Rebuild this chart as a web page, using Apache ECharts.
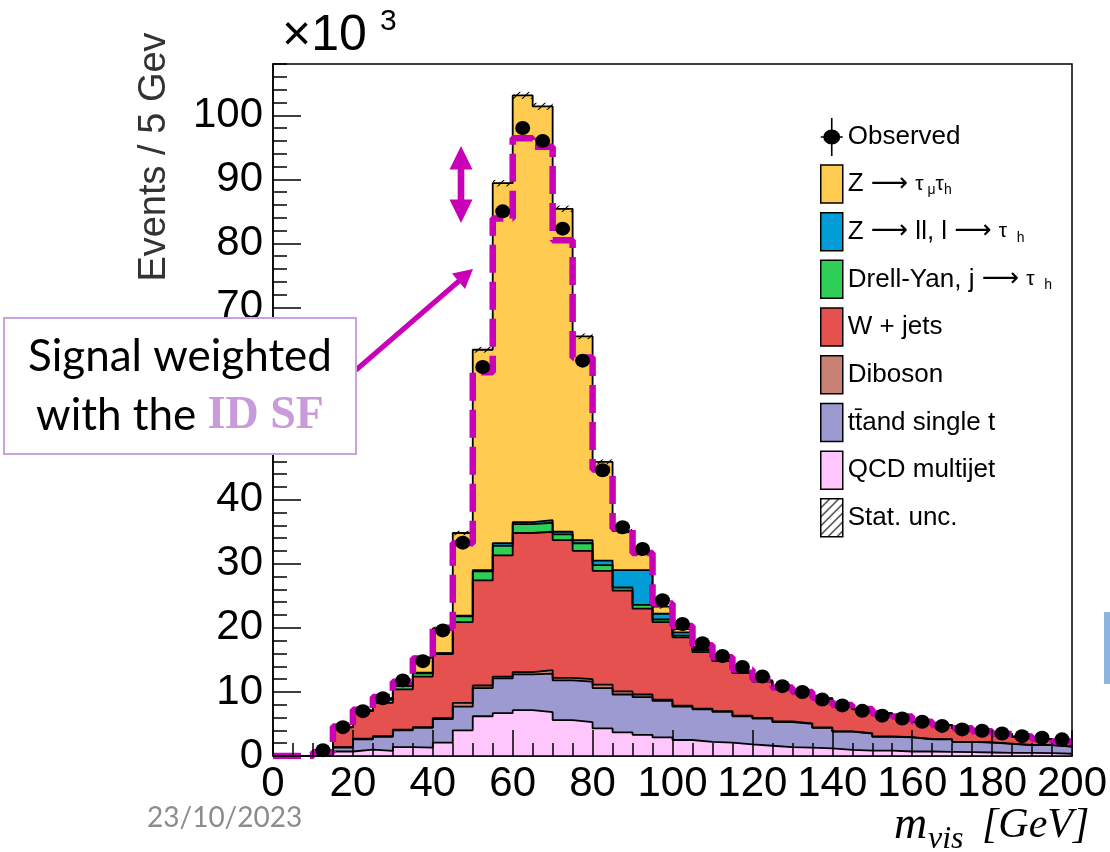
<!DOCTYPE html>
<html>
<head>
<meta charset="utf-8">
<script src="https://cdn.jsdelivr.net/npm/echarts@6/dist/echarts.min.js"></script>
<style>
html,body{margin:0;padding:0;background:#fff;}
#chart{width:1110px;height:852px;}
</style>
</head>
<body>
<div id="chart"></div>
<script>
// ---------------- data (values in units of 10^3 events / 5 GeV) ----------------
const binLow = [0,5,10,15,20,25,30,35,40,45,50,55,60,65,70,75,80,85,90,95,
                100,105,110,115,120,125,130,135,140,145,150,155,160,165,170,175,180,185,190,195];
const binWidth = 5;
const xTicks = [0,20,40,60,80,100,120,140,160,180,200];
const yTicks = [0,10,20,30,40,50,60,70,80,90,100];

const qcd     = [0,0,0.1,0.7,1.0,0.8,1.4,1.3,2.1,4.0,6.2,6.7,7.15,6.85,5.6,5.3,4.3,3.7,3.3,2.9,
                 2.5,2.2,2.1,1.8,1.6,1.4,1.3,1.2,0.95,0.85,0.85,0.7,0.7,0.65,0.6,0.55,0.5,0.48,0.45,0.35];
const ttbar   = [0,0,0.1,0.6,1.6,2.2,2.6,3.1,3.65,3.7,4.4,5.4,5.6,6.0,6.2,6.3,6.3,5.9,5.9,5.7,
                 5.2,5.1,4.8,4.4,4.25,3.9,3.7,3.2,2.85,2.65,2.15,2.2,1.9,1.95,1.6,1.55,1.4,1.22,1.25,1.1];
const diboson = [0,0,0,0.1,0.1,0.1,0.1,0.1,0.15,0.6,0.4,0.3,0.35,0.55,0.4,0.4,0.55,0.5,0.4,0.2,
                 0.15,0.1,0.1,0.1,0.1,0.1,0.1,0.05,0.05,0.05,0.05,0.05,0.05,0.02,0.02,0.02,0.02,0.02,0.02,0.02];
const wjets   = [0,0,0.3,3.1,4.3,5.2,6.3,7.9,10.0,12.6,16.4,18.9,21.7,21.6,21.5,20.0,17.75,15.7,13.4,12.1,
                 10.65,8.8,7.8,6.65,5.65,5.0,4.75,4.45,3.95,3.75,3.55,3.15,2.65,2.18,2.08,1.68,1.48,1.28,0.88,0.73];
const dyJet   = [0,0,0,0,0.05,0.5,0.5,0.5,0.1,0.9,1.4,1.5,1.4,1.4,0.9,1.2,0.9,0.5,0.6,0.4,
                 0.3,0.3,0.15,0.1,0.1,0.1,0.05,0.05,0.05,0.05,0.03,0.03,0.03,0.02,0.02,0.02,0.02,0.02,0.02,0.02];
const zll     = [0,0,0,0,0,0.05,0.1,0.1,0.05,0.1,0.2,0.4,0.3,0.4,0.4,0.5,0.7,2.7,5.4,0.9,
                 0.5,0.2,0.1,0.05,0.05,0.05,0.05,0.05,0,0,0,0,0,0,0,0,0,0,0,0];
const ztautau = [0,0,0,0,0.05,0.15,0.4,2.4,3.85,12.9,34.4,56.2,66.6,64.6,50.4,31.8,15.4,6.1,2.5,1.1,
                 0.5,0.3,0.15,0.1,0.05,0,0,0,0,0,0,0,0,0,0,0,0,0,0,0];
const statUnc = [0,0,0.1,0.2,0.2,0.2,0.25,0.3,0.3,0.35,0.45,0.5,0.55,0.55,0.5,0.45,0.4,0.35,0.3,0.3,
                 0.25,0.25,0.2,0.2,0.2,0.2,0.2,0.15,0.15,0.15,0.15,0.15,0.15,0.1,0.1,0.1,0.1,0.1,0.1,0.1];
const observed = [null,null,0.9,4.5,7.0,9.0,11.8,14.8,19.6,33.3,60.7,85.0,98.0,96.0,82.3,61.7,44.6,35.7,32.3,24.3,
                  20.6,17.6,15.6,13.9,12.4,10.9,10.0,8.8,7.9,7.05,6.3,5.85,5.35,4.7,4.15,3.95,3.5,3.1,2.85,2.6];
const signalWeighted = [0,0,0.6,4.6,7.2,9.2,11.6,15.2,20.0,33.2,59.9,83.9,96.4,95.1,80.5,62.2,44.7,35.5,31.7,23.8,
                        20.3,17.3,15.4,13.5,12.0,10.7,10.0,9.1,7.95,7.35,6.65,6.15,5.35,4.85,4.35,3.85,3.45,3.05,2.65,2.25];

const legendLabels = ['Observed','Z → τμτh','Z → ll, l → τ h','Drell-Yan, j → τ h','W + jets',
                      'Diboson','tt\u0304and single t','QCD multijet','Stat. unc.'];

// ---------------- styling ----------------
const SANS = '"Liberation Sans", Arial, Helvetica, sans-serif';
const ARROWFONT = '"DejaVu Sans", "Liberation Sans", sans-serif';
const MAG = '#C800B6';
const COL = {
  ztt:'#FFCB50', zll:'#009DD6', dy:'#2ECF55', wj:'#E4514F', dib:'#C98173', tt:'#9D99D1', qcd:'#FFC6FD'
};

function makeHatch(){
  const c = document.createElement('canvas');
  c.width = 9; c.height = 9;
  const g = c.getContext('2d');
  g.strokeStyle = '#000'; g.lineWidth = 1.1;
  g.beginPath();
  g.moveTo(0,9); g.lineTo(9,0);
  g.moveTo(-3,3); g.lineTo(3,-3);
  g.moveTo(6,12); g.lineTo(12,6);
  g.stroke();
  return c;
}
const hatchFill = {image: makeHatch(), repeat: 'repeat'};

// layers bottom -> top
const layerDefs = [
  {name: legendLabels[7], vals: qcd,     color: COL.qcd},
  {name: legendLabels[6], vals: ttbar,   color: COL.tt},
  {name: legendLabels[5], vals: diboson, color: COL.dib},
  {name: legendLabels[4], vals: wjets,   color: COL.wj},
  {name: legendLabels[3], vals: dyJet,   color: COL.dy},
  {name: legendLabels[2], vals: zll,     color: COL.zll},
  {name: legendLabels[1], vals: ztautau, color: COL.ztt}
];
let run = binLow.map(() => 0);
const cums = layerDefs.map(l => { run = run.map((c, i) => c + l.vals[i]); return run.slice(); });
const total = cums[cums.length - 1];
const xMax = binLow[binLow.length - 1] + binWidth;
const stepData = arr => binLow.map((x, i) => [x, arr[i]]).concat([[xMax, arr[arr.length - 1]]]);

const layerSeries = layerDefs.map((l, k) => ({
  name: l.name,
  type: 'line',
  step: 'end',
  data: stepData(cums[k]),
  symbol: 'none',
  showSymbol: false,
  silent: true,
  animation: false,
  itemStyle: {color: l.color},
  lineStyle: {color: '#000', width: 1.8},
  areaStyle: {color: l.color, opacity: 1},
  emphasis: {disabled: true},
  z: 2
})).reverse();

const statData = binLow.map((x, i) => [x, x + binWidth, total[i] - statUnc[i], total[i] + statUnc[i]])
                       .filter((d, i) => statUnc[i] > 0 && total[i] > 0);

const obsData = binLow.map((x, i) => observed[i] == null ? null : [x + binWidth / 2, observed[i]]).filter(d => d);

const richLegend = {
  n: {fontSize: 26, fontFamily: SANS, color: '#000'},
  a: {fontSize: 26, fontFamily: ARROWFONT, color: '#000'},
  t: {fontSize: 21, fontFamily: SANS, color: '#000'},
  s: {fontSize: 14, fontFamily: SANS, color: '#000', padding: [12, 0, 0, 0]}
};
const legendRich = {};
legendRich[legendLabels[1]] = '{n|Z }{a|⟶}{n| }{t|τ}{s| μ}{t|τ}{s|h}';
legendRich[legendLabels[2]] = '{n|Z }{a|⟶}{n| ll, l }{a|⟶}{n| }{t|τ }{s| h}';
legendRich[legendLabels[3]] = '{n|Drell-Yan, j }{a|⟶}{n| }{t|τ }{s| h}';

const obsIcon = 'path://M10.2,0 L11.8,0 L11.8,38 L10.2,38 Z M2.5,19 A8.5,7.5 0 1,1 19.5,19 A8.5,7.5 0 1,1 2.5,19 Z M0,18.2 L22,18.2 L22,19.8 L0,19.8 Z';

const legendData = [
  {name: legendLabels[0], icon: obsIcon, itemStyle: {color: '#000', borderWidth: 0, opacity: 1}},
  ...layerDefs.slice().reverse().map(l => ({name: l.name, icon: 'rect',
      itemStyle: {color: l.color, borderColor: '#000', borderWidth: 1.5}})),
  {name: legendLabels[8], icon: 'rect', itemStyle: {color: hatchFill, borderColor: '#000', borderWidth: 1.5}}
];

const axisLineStyle = {color: '#000', width: 1.5};

const option = {
  animation: false,
  backgroundColor: '#fff',
  grid: {left: 273, right: 38, top: 64, bottom: 96, show: true, borderColor: '#000', borderWidth: 1.5,
         backgroundColor: 'transparent', outerBoundsMode: 'none', containLabel: false},
  legend: {
    orient: 'vertical', left: 820, top: 118, itemWidth: 22, itemHeight: 38, itemGap: 8.2,
    padding: 0, selectedMode: false, data: legendData,
    textStyle: {fontSize: 26, fontFamily: SANS, color: '#000', rich: richLegend, lineHeight: 36},
    formatter: name => legendRich[name] || ('{n|' + name + '}')
  },
  xAxis: {
    type: 'value', min: xTicks[0], max: xTicks[xTicks.length - 1], interval: xTicks[1] - xTicks[0], z: 10,
    axisLine: {show: true, onZero: false, lineStyle: axisLineStyle},
    axisTick: {show: true, inside: true, length: 26, lineStyle: axisLineStyle},
    minorTick: {show: true, splitNumber: 4, length: 13, lineStyle: axisLineStyle},
    axisLabel: {fontSize: 42, fontFamily: SANS, color: '#000', margin: 7},
    splitLine: {show: false}, minorSplitLine: {show: false}
  },
  yAxis: [
    {
      type: 'value', position: 'left', min: 0, max: 108, interval: yTicks[1] - yTicks[0], z: 10,
      axisLine: {show: true, onZero: false, lineStyle: axisLineStyle},
      axisTick: {show: true, inside: true, length: 28, lineStyle: axisLineStyle},
      axisLabel: {fontSize: 42, fontFamily: SANS, color: '#000', margin: 10, showMaxLabel: false,
                  formatter: v => (yTicks.indexOf(v) >= 0 ? String(v) : '')},
      splitLine: {show: false}
    },
    {
      type: 'value', position: 'left', min: 0, max: 108, interval: 2, z: 10,
      axisLine: {show: false},
      axisTick: {show: true, inside: true, length: 14, lineStyle: axisLineStyle},
      axisLabel: {show: false},
      splitLine: {show: false}
    }
  ],
  series: [
    ...layerSeries,
    {
      name: legendLabels[8], type: 'custom', silent: true, z: 3,
      itemStyle: {color: hatchFill},
      data: statData,
      encode: {x: [0, 1], y: [2, 3]},
      renderItem: (params, api) => {
        const p0 = api.coord([api.value(0), api.value(3)]);
        const p1 = api.coord([api.value(1), api.value(2)]);
        return {type: 'rect', shape: {x: p0[0], y: p0[1], width: p1[0] - p0[0], height: p1[1] - p0[1]},
                style: {fill: hatchFill}};
      }
    },
    {
      name: 'Signal weighted', type: 'line', step: 'end', data: stepData(signalWeighted),
      symbol: 'none', showSymbol: false, silent: true, z: 4,
      lineStyle: {color: MAG, width: 6.5, type: [28, 9]},
      emphasis: {disabled: true}
    },
    {
      name: legendLabels[0], type: 'scatter', data: obsData, symbol: 'circle', symbolSize: [15, 14],
      itemStyle: {color: '#000', opacity: 1}, silent: true, z: 5, emphasis: {disabled: true}
    }
  ],
  graphic: [
    {type: 'text', x: 155, y: 157, rotation: Math.PI / 2, z: 100,
     style: {text: 'Events / 5 Gev', fontSize: 38, fontFamily: SANS, fill: '#333', align: 'center', verticalAlign: 'middle'}},
    {type: 'text', x: 282, y: 36, z: 100,
     style: {text: '×10', fontSize: 50, fontFamily: SANS, fill: '#000', align: 'left', verticalAlign: 'middle'}},
    {type: 'text', x: 380, y: 22, z: 100,
     style: {text: '3', fontSize: 30, fontFamily: SANS, fill: '#000', align: 'left', verticalAlign: 'middle'}},
    // double arrow
    {type: 'polygon', z: 100, silent: true,
     shape: {points: [[461,146],[472.5,169.5],[464.3,169.5],[464.3,199.5],[472.5,199.5],[461,223],
                      [449.5,199.5],[457.7,199.5],[457.7,169.5],[449.5,169.5]]},
     style: {fill: MAG}},
    // pointing arrow
    {type: 'line', z: 100, silent: true, shape: {x1: 356, y1: 370, x2: 459, y2: 281},
     style: {stroke: MAG, lineWidth: 5}},
    {type: 'polygon', z: 100, silent: true,
     shape: {points: [[473, 269], [465, 289], [452, 273.5]]}, style: {fill: MAG}},
    // annotation box
    {type: 'rect', z: 101, silent: true, shape: {x: 4, y: 318, width: 352, height: 136},
     style: {fill: '#fff', stroke: '#C9A2DD', lineWidth: 2}},
    {type: 'text', x: 180, y: 357, z: 102, silent: true,
     style: {text: 'Signal weighted', fontSize: 44, fontFamily: 'Lato, "Open Sans", sans-serif', fill: '#000',
             align: 'center', verticalAlign: 'middle'}},
    {type: 'text', x: 180, y: 416, z: 102, silent: true,
     style: {text: '{a|with the }{b|ID SF}', align: 'center', verticalAlign: 'middle',
             rich: {a: {fontSize: 44, fontFamily: 'Lato, "Open Sans", sans-serif', fill: '#000'},
                    b: {fontSize: 46, fontFamily: '"Liberation Serif", "DejaVu Serif", serif', fontWeight: 'bold', fill: '#C99BDB'}}}},
    // date
    {type: 'text', x: 147, y: 818, z: 100, silent: true,
     style: {text: '23/10/2023', fontSize: 28, fontFamily: 'Lato, sans-serif', fill: '#8C8C8C', align: 'left', verticalAlign: 'middle'}},
    // x axis title
    {type: 'text', x: 894, y: 826, z: 100, silent: true,
     style: {text: 'm', fontSize: 46, fontFamily: '"Liberation Serif", serif', fontStyle: 'italic', fill: '#000', align: 'left', verticalAlign: 'middle'}},
    {type: 'text', x: 928, y: 840, z: 100, silent: true,
     style: {text: 'vis', fontSize: 32, fontFamily: '"Liberation Serif", serif', fontStyle: 'italic', fill: '#000', align: 'left', verticalAlign: 'middle'}},
    {type: 'text', x: 982, y: 826, z: 100, silent: true,
     style: {text: '[GeV]', fontSize: 42, fontFamily: '"Liberation Serif", serif', fontStyle: 'italic', fill: '#000', align: 'left', verticalAlign: 'middle'}},
    // side bar
    {type: 'rect', z: 100, silent: true, shape: {x: 1104, y: 612, width: 6, height: 72}, style: {fill: '#8DB5E1'}}
  ]
};

const chart = echarts.init(document.getElementById('chart'), null, {renderer: 'canvas'});
chart.setOption(option);
</script>
</body>
</html>
